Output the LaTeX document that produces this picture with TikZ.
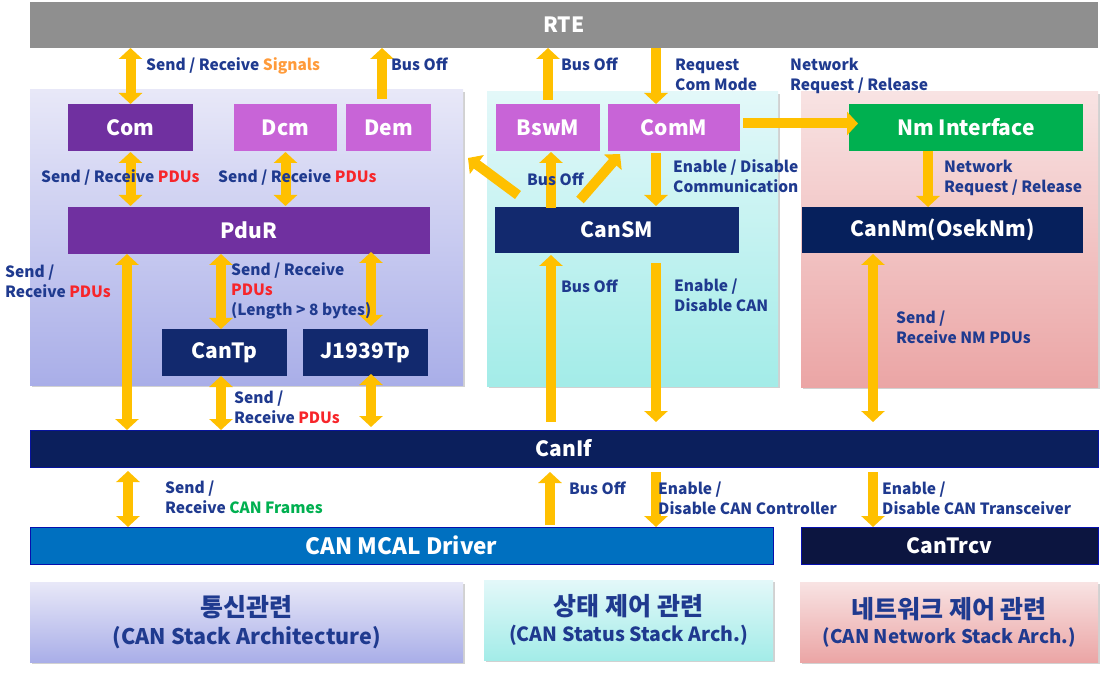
\documentclass[tikz,border=0pt]{standalone}
\usepackage{fontspec}
\setmainfont{Noto Sans CJK KR}
\usetikzlibrary{arrows.meta,shadows,calc}

\definecolor{arrowy}{HTML}{FFC000}
\definecolor{lblblue}{HTML}{1F3A8F}
\definecolor{sigorange}{HTML}{FF9B3B}
\definecolor{pdured}{HTML}{F7252A}
\definecolor{frgreen}{HTML}{00B050}
\definecolor{rtegray}{HTML}{8F8F8F}
\definecolor{darkpurple}{HTML}{7030A0}
\definecolor{lightpurple}{HTML}{C864D7}
\definecolor{smnavy}{HTML}{12296E}
\definecolor{nmnavy}{HTML}{06205C}
\definecolor{ifnavy}{HTML}{0B1F5C}
\definecolor{mcalblue}{HTML}{0070C0}
\definecolor{trcvnavy}{HTML}{0C1540}
\definecolor{nmgreen}{HTML}{00B050}
\definecolor{lavtop}{HTML}{E8E8F8}
\definecolor{lavbot}{HTML}{A9AEE8}
\definecolor{cytop}{HTML}{E3F8F9}
\definecolor{cybot}{HTML}{A3ECE8}
\definecolor{pktop}{HTML}{F8E3E3}
\definecolor{pkbot}{HTML}{EBA5A5}

\tikzset{
  shade/.style={drop shadow={shadow xshift=1.5pt, shadow yshift=-2pt, opacity=0.3, fill=black!60}},
  lavpanel/.style={shade, top color=lavtop, bottom color=lavbot, draw=none},
  cypanel/.style={shade, top color=cytop, bottom color=cybot, draw=none},
  pkpanel/.style={shade, top color=pktop, bottom color=pkbot, draw=none},
  box/.style={anchor=north west, inner sep=0pt, outer sep=0pt, text=white,
    font=\fontsize{21}{24}\selectfont\bfseries},
  bar/.style={box, font=\fontsize{21}{24}\selectfont\bfseries},
  % labels are placed by the baseline of their last line
  lbl/.style={anchor=base west, inner sep=0pt, align=left, text=lblblue,
    font=\fontsize{15.5}{20}\selectfont\bfseries},
  arr/.style={draw=arrowy, line width=10pt, -{Triangle[width=23pt,length=11pt]}},
  dbl/.style={draw=arrowy, line width=10pt,
    {Triangle[width=23pt,length=11pt]}-{Triangle[width=23pt,length=11pt]}},
  grpbox/.style={shade, anchor=north west, inner sep=0pt, align=center, text=lblblue},
}

\begin{document}
\begin{tikzpicture}[x=1pt,y=-1pt]
\useasboundingbox (0,0) rectangle (1111,676);

% background panels of the three stacks
\path[lavpanel] (30,90) rectangle (463,385);
\path[cypanel] (487,92) rectangle (778,386);
\path[pkpanel] (801,92) rectangle (1098,387);

% RTE
\node[bar, fill=rtegray, minimum width=1068pt, minimum height=46pt] (rte) at (30,2) {RTE};

% communication stack
\node[box, fill=darkpurple, minimum width=125pt, minimum height=47pt] (com) at (68,104) {Com};
\node[box, fill=lightpurple, minimum width=103pt, minimum height=47pt] (dcm) at (234,104) {Dcm};
\node[box, fill=lightpurple, minimum width=85pt, minimum height=47pt] (dem) at (346,104) {Dem};
\node[box, fill=darkpurple, minimum width=362pt, minimum height=47pt] (pdur) at (68,207) {PduR};
\node[box, fill=smnavy, minimum width=125pt, minimum height=47pt] (cantp) at (162,329) {CanTp};
\node[box, fill=smnavy, minimum width=125pt, minimum height=47pt] (jtp) at (303,329) {J1939Tp};

% state management stack
\node[box, fill=lightpurple, minimum width=104pt, minimum height=47pt] (bswm) at (496,104) {BswM};
\node[box, fill=lightpurple, minimum width=132pt, minimum height=47pt] (comm) at (608,104) {ComM};
\node[box, fill=smnavy, minimum width=244pt, minimum height=46pt] (cansm) at (495,207) {CanSM};

% network management stack
\node[box, fill=nmgreen, minimum width=234pt, minimum height=47pt] (nmif) at (849,104) {Nm Interface};
\node[box, fill=nmnavy, minimum width=281pt, minimum height=46pt] (cannm) at (802,207) {CanNm(OsekNm)};

% lower layers
\node[bar, fill=ifnavy, draw=blue!40!ifnavy, line width=0.8pt, minimum width=1068pt, minimum height=37pt] (canif) at (30,430) {CanIf};
\node[bar, fill=mcalblue, draw=blue!50!ifnavy, line width=0.8pt, minimum width=743pt, minimum height=37pt,
  font=\fontsize{22.5}{26}\selectfont\bfseries] (mcal) at (30,527) {CAN MCAL Driver};
\node[bar, fill=trcvnavy, draw=blue!50!ifnavy, line width=0.8pt, minimum width=297pt, minimum height=37pt] (cantrcv) at (801,527) {CanTrcv};

% group captions
\node[grpbox, top color=lavtop, bottom color=lavbot, minimum width=433pt, minimum height=80pt] (g1) at (30,582)
  {{\fontsize{25}{30}\selectfont\bfseries 통신관련}\\[6pt]{\fontsize{21.5}{24}\selectfont\bfseries (CAN Stack Architecture)}};
\node[grpbox, top color=cytop, bottom color=cybot, minimum width=289pt, minimum height=80pt] (g2) at (484,580)
  {{\fontsize{25}{30}\selectfont\bfseries 상태 제어 관련}\\[6pt]{\fontsize{19.5}{24}\selectfont\bfseries (CAN Status Stack Arch.)}};
\node[grpbox, top color=pktop, bottom color=pkbot, minimum width=298pt, minimum height=80pt] (g3) at (800,582)
  {{\fontsize{25}{30}\selectfont\bfseries 네트워크 제어 관련}\\[6pt]{\fontsize{18.8}{24}\selectfont\bfseries (CAN Network Stack Arch.)}};

% x positions of the vertical arrows
\coordinate (xdem) at (382,0);
\coordinate (xcomm) at (656,0);
\coordinate (xpdur) at (127,0);
\coordinate (xtp) at (221,0);
\coordinate (xj) at (371,0);
\coordinate (xsm) at (551,0);
\coordinate (xnm) at (928,0);
\coordinate (xnmif) at (873,0);
\coordinate (xdrv) at (128,0);
\coordinate (xboff) at (550,0);

% arrows towards RTE
\draw[dbl] (rte.south -| com) -- (com.north);
\draw[arr] (dem.north -| xdem) ++(0,-5) -- (rte.south -| xdem);
\draw[arr] (bswm.north) ++(0,-4) -- (rte.south -| bswm);
\draw[arr] (rte.south -| xcomm) -- (comm.north -| xcomm);
\draw[arr] ([yshift=4pt]comm.east) ++(3,0) -- ([xshift=9pt,yshift=4pt]nmif.west);

% communication stack arrows
\draw[dbl] (com.south) ++(0,1) -- ([yshift=1pt]pdur.north -| com);
\draw[dbl] (dcm.south) ++(0,1) -- ([yshift=1pt]pdur.north -| dcm);
\draw[dbl] (pdur.south -| xpdur) -- (canif.north -| xpdur);
\draw[dbl] (pdur.south -| xtp) -- (cantp.north -| xtp);
\draw[dbl] (pdur.south -| xj) ++(0,-2) -- ([yshift=3pt]jtp.north -| xj);
\draw[dbl] (cantp.south -| xtp) -- (canif.north -| xtp);
\draw[dbl] (jtp.south -| xj) ++(0,-2) -- ([yshift=3pt]canif.north -| xj);

% state management arrows
\coordinate (smr) at ($(cansm.north west)+(85,-7)$);
\coordinate (smrtip) at ($(comm.south west)+(12,3)$);
\coordinate (sml) at ($(cansm.north west)+(23,-12)$);
\coordinate (smltip) at (468,158);
\draw[arr] (cansm.north -| xsm) ++(0,1) -- ([yshift=-1pt]bswm.south -| xsm);
\draw[arr] (smr) -- (smrtip);
\draw[arr] (sml) -- (smltip);
\draw[arr] (comm.south -| xcomm) ++(0,2) -- ([yshift=1pt]cansm.north -| xcomm);
\draw[arr] (canif.north -| xsm) ++(0,-8) -- ([yshift=-2pt]cansm.south -| xsm);
\draw[arr] (cansm.south -| xcomm) ++(0,10) -- ([yshift=8pt]canif.north -| xcomm);

% network management arrows
\draw[arr] (nmif.south -| xnm) -- (cannm.north -| xnm);
\draw[dbl] (cannm.south -| xnmif) ++(0,1) -- ([yshift=8pt]canif.north -| xnmif);

% arrows below CanIf
\draw[dbl] (canif.south -| xdrv) ++(0,4) -- (mcal.north -| xdrv);
\draw[arr] (mcal.north -| xboff) ++(0,-2) -- ([yshift=-5pt]canif.south -| xboff);
\draw[arr] (canif.south -| xcomm) ++(0,5) -- (mcal.north -| xcomm);
\draw[arr] (canif.south -| xnmif) ++(0,5) -- (cantrcv.north -| xnmif);

% arrow labels
\node[lbl] (l1) at (146,71) {Send / Receive \textcolor{sigorange}{Signals}};
\node[lbl] (l2) at (391,71) {Bus Off};
\node[lbl] (l3) at (561,71) {Bus Off};
\node[lbl] (l4) at (675,91) {Request\\Com Mode};
\node[lbl] (l5) at (790,91) {Network\\Request / Release};
\node[lbl] (l6) at (41,183) {Send / Receive \textcolor{pdured}{PDUs}};
\node[lbl] (l7) at (218,183) {Send / Receive \textcolor{pdured}{PDUs}};
\node[lbl] (l8) at (527,186) {Bus Off};
\node[lbl] (l9) at (673,193) {Enable / Disable\\Communication};
\node[lbl] (l10) at (944,193) {Network\\Request / Release};
\node[lbl] (l11) at (5,298) {Send /\\Receive \textcolor{pdured}{PDUs}};
\node[lbl] (l12) at (231,316) {Send / Receive\\\textcolor{pdured}{PDUs}\\(Length > 8 bytes)};
\node[lbl] (l13) at (561,293) {Bus Off};
\node[lbl] (l14) at (674,312) {Enable /\\Disable CAN};
\node[lbl] (l15) at (896,343) {Send /\\Receive NM PDUs};
\node[lbl] (l16) at (234,423) {Send /\\Receive \textcolor{pdured}{PDUs}};
\node[lbl] (l17) at (165,513) {Send /\\Receive \textcolor{frgreen}{CAN Frames}};
\node[lbl] (l18) at (569,494) {Bus Off};
\node[lbl] (l19) at (658,514) {Enable /\\Disable CAN Controller};
\node[lbl] (l20) at (882,514) {Enable /\\Disable CAN Transceiver};
\end{tikzpicture}
\end{document}
